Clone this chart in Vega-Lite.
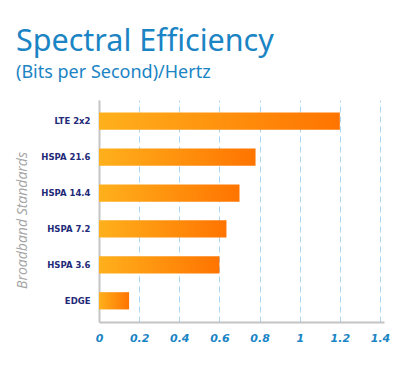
{
  "$schema": "https://vega.github.io/schema/vega-lite/v6.json",
  "autosize": "none",
  "width": 285,
  "height": 222,
  "padding": {"left": 99, "top": 100, "right": 14, "bottom": 51},
  "background": "white",
  "title": {
    "text": "Spectral Efficiency",
    "subtitle": "(Bits per Second)/Hertz",
    "anchor": "start",
    "frame": "group",
    "dx": -83,
    "offset": 18,
    "font": "Noto Sans",
    "fontSize": 30.5,
    "fontWeight": "normal",
    "color": "#1a84c4",
    "subtitleFont": "Noto Sans",
    "subtitleFontSize": 18,
    "subtitleColor": "#1a84c4",
    "subtitlePadding": 7
  },
  "data": {
    "values": [
      {"standard": "LTE 2x2", "value": 1.2},
      {"standard": "HSPA 21.6", "value": 0.78},
      {"standard": "HSPA 14.4", "value": 0.7},
      {"standard": "HSPA 7.2", "value": 0.635},
      {"standard": "HSPA 3.6", "value": 0.6},
      {"standard": "EDGE", "value": 0.15}
    ]
  },
  "mark": {
    "type": "bar",
    "color": {
      "gradient": "linear",
      "x1": 0, "y1": 0, "x2": 1, "y2": 0,
      "stops": [
        {"offset": 0, "color": "#ffb01c"},
        {"offset": 1, "color": "#ff7400"}
      ]
    }
  },
  "encoding": {
    "y": {
      "field": "standard",
      "type": "nominal",
      "sort": null,
      "scale": {"paddingInner": 0.52, "paddingOuter": 0.35},
      "axis": {
        "title": "Broadband Standards",
        "titleFont": "Open Sans",
        "titleFontStyle": "italic",
        "titleFontWeight": "normal",
        "titleFontSize": 14,
        "titleColor": "#a3a3a3",
        "titleX": -77,
        "titleY": 120,
        "titleAlign": "center",
        "titleBaseline": "middle",
        "titleAngle": -90,
        "labelFont": "DejaVu Sans",
        "labelFontWeight": "bold",
        "labelFontSize": 8.5,
        "labelColor": "#1f2a78",
        "labelPadding": 9,
        "ticks": false,
        "domainColor": "#c4c4c4",
        "domainWidth": 2,
        "grid": false
      }
    },
    "x": {
      "field": "value",
      "type": "quantitative",
      "scale": {"domain": [0, 1.42], "nice": false},
      "axis": {
        "title": null,
        "values": [0, 0.2, 0.4, 0.6, 0.8, 1, 1.2, 1.4],
        "format": "~g",
        "labelFont": "DejaVu Sans",
        "labelFontStyle": "italic",
        "labelFontWeight": "bold",
        "labelFontSize": 11,
        "labelColor": "#1a84c4",
        "labelPadding": 10,
        "labelFlush": false,
        "ticks": false,
        "domainColor": "#c4c4c4",
        "domainWidth": 2,
        "grid": true,
        "gridColor": "#a9d5f2",
        "gridDash": [6, 4],
        "gridWidth": 1
      }
    }
  },
  "config": {"view": {"stroke": null}}
}
